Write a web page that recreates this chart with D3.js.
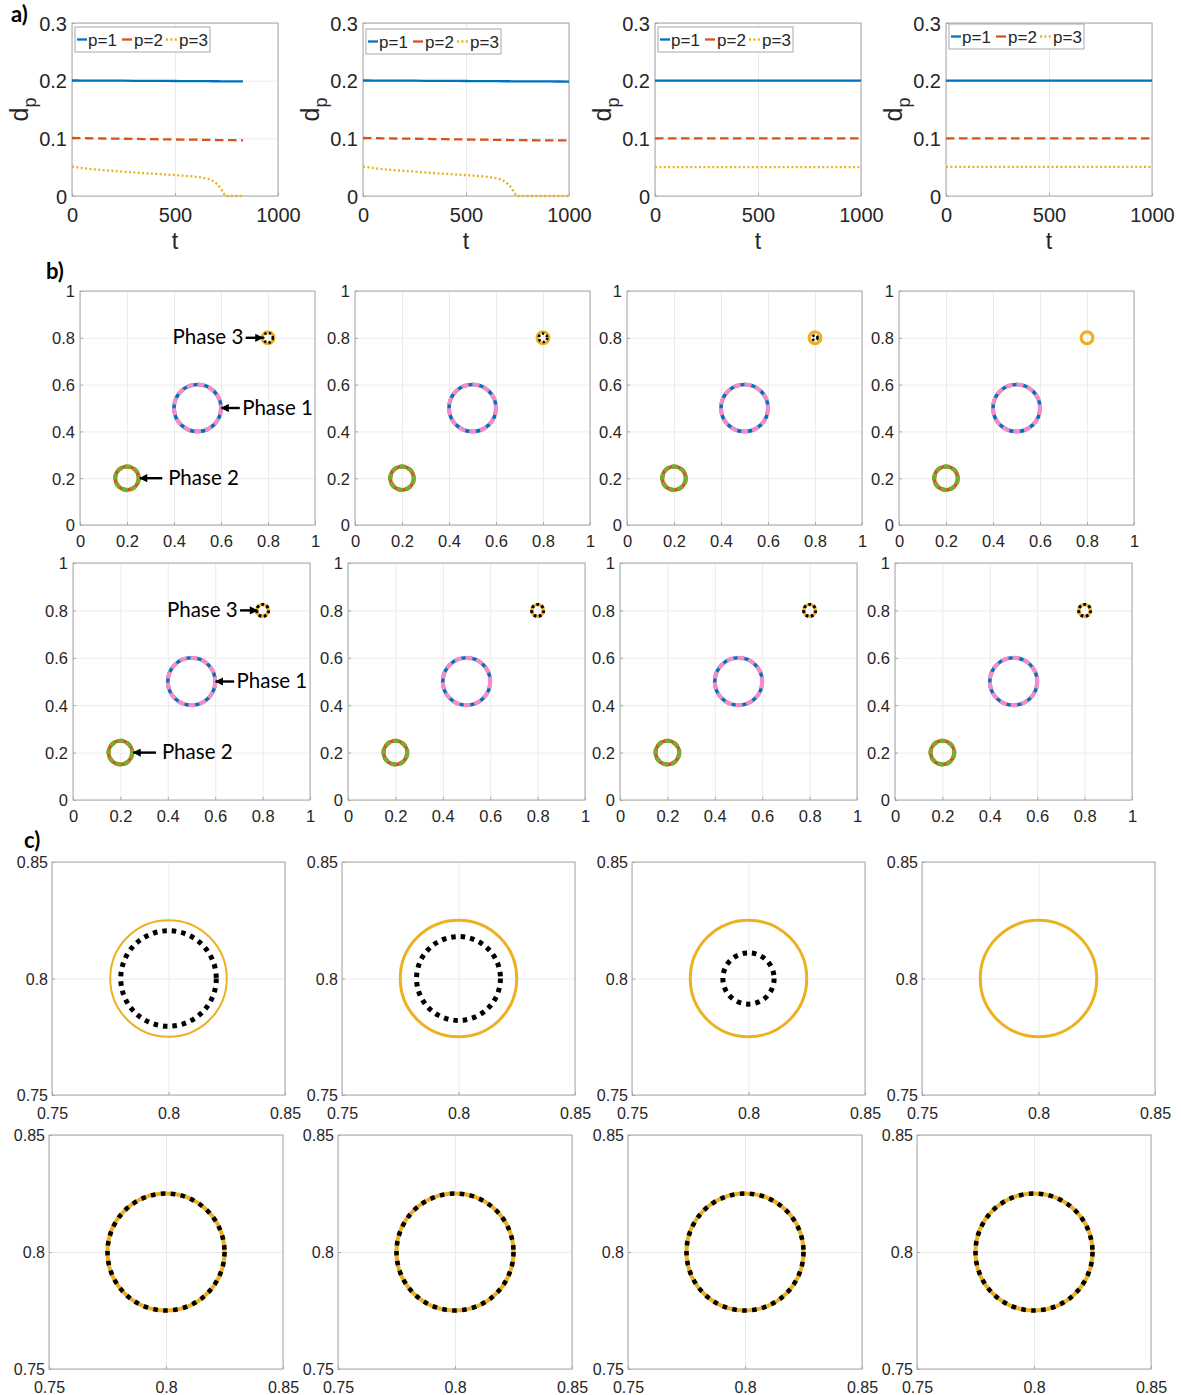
<!DOCTYPE html>
<html><head><meta charset="utf-8">
<script src="https://cdn.jsdelivr.net/npm/d3@7"></script>
<style>body{margin:0;background:#fff}</style>
</head><body>
<svg id="fig" width="1181" height="1395"></svg>
<script>
// ================= DATA =================
// Panel a) : d_p versus t, one entry per sub-plot
const aTimes = [
  [0,50,100,200,300,400,500,550,600,650,680,700,720,735,745,760,800,830],
  [0,50,100,200,300,400,500,550,600,650,680,700,720,735,748,760,800,900,1000],
  [0,500,1000],
  [0,500,1000]
];
const aP1 = [
  [0.2003,0.2002,0.2001,0.2000,0.1998,0.1996,0.1994,0.1993,0.1992,0.1991,0.1990,0.1990,0.1989,0.1989,0.1988,0.1988,0.1987,0.1986],
  [0.2003,0.2002,0.2001,0.2000,0.1998,0.1996,0.1994,0.1993,0.1992,0.1991,0.1990,0.1990,0.1989,0.1989,0.1988,0.1988,0.1987,0.1986,0.1985],
  [0.2,0.2,0.2],
  [0.2,0.2,0.2]
];
const aP2 = [
  [0.1006,0.1003,0.1000,0.0995,0.0990,0.0985,0.0980,0.0978,0.0976,0.0974,0.0972,0.0971,0.0970,0.0970,0.0969,0.0968,0.0967,0.0966],
  [0.1006,0.1003,0.1000,0.0995,0.0990,0.0985,0.0980,0.0978,0.0976,0.0974,0.0972,0.0971,0.0970,0.0970,0.0969,0.0968,0.0967,0.0965,0.0963],
  [0.1,0.1,0.1],
  [0.1,0.1,0.1]
];
const aP3 = [
  [0.051,0.0485,0.0465,0.0435,0.0408,0.0385,0.0362,0.035,0.0333,0.0305,0.027,0.022,0.014,0.006,0,0,0,0],
  [0.051,0.0485,0.0465,0.0435,0.0408,0.0385,0.0362,0.035,0.0333,0.0305,0.027,0.022,0.014,0.006,0,0,0,0,0],
  [0.05,0.05,0.05],
  [0.0505,0.0505,0.0505]
];
const aLegendLabels = ["p=1","p=2","p=3"];
const aXTicks = [0,500,1000];
const aYTicks = [0,0.1,0.2,0.3];

// Panels b) and c) : phase circles
const phaseNames = ["Phase 1","Phase 2","Phase 3"];
const phaseCx = [0.5,0.2,0.8];
const phaseCy = [0.5,0.2,0.8];
const phaseR  = [0.1,0.05,0.025];
// black (inner) phase-3 contour radius, top row / bottom row, per column
const innerRTop = [0.0205,0.018,0.011,null];
const innerRBot = [0.025,0.025,0.025,0.025];
const bTicks = [0,0.2,0.4,0.6,0.8,1];
const cTicks = [0.75,0.8,0.85];

// annotations (data coordinates) in first b) sub-plots
const annoY      = [0.5,0.2,0.8];
const annoTail   = [0.68,0.35,0.705];
const annoTip    = [0.602,0.255,0.777];
const annoTextX  = [0.69,0.375,0.695];
const annoAnchor = ["start","start","end"];

// ================= STYLE / LAYOUT =================
const C = {blue:"#0072BD", red:"#D95319", yellow:"#EDB120", green:"#77AC30", pink:"#F48CC6", black:"#000"};
const TICKFONT = "Liberation Sans, Arial, Helvetica, sans-serif";
const CALFONT = "Lato, Open Sans, sans-serif";
const AXC = "#a8a8a8", GRIDC = "#ebebeb", TXT = "#262626";

const svg = d3.select("#fig");
svg.append("rect").attr("width",1181).attr("height",1395).attr("fill","#fff");
svg.append("defs").append("marker").attr("id","arr")
  .attr("viewBox","0 0 10 10").attr("refX",9).attr("refY",5)
  .attr("markerWidth",4).attr("markerHeight",3.4).attr("orient","auto")
  .append("path").attr("d","M0,0L10,5L0,10Z").attr("fill","#000");

function fmt(v){ return String(v); }

function drawAxes(o){
  const g = svg.append("g").attr("transform",`translate(${o.left},${o.top})`);
  const x = d3.scaleLinear().domain(o.xDomain).range([0,o.w]);
  const y = d3.scaleLinear().domain(o.yDomain).range([o.h,0]);
  // grid
  g.append("g").call(d3.axisBottom(x).tickValues(o.xTicks).tickSize(o.h).tickFormat(""))
    .call(s=>{s.select(".domain").remove(); s.selectAll("line").attr("stroke",GRIDC);});
  g.append("g").call(d3.axisLeft(y).tickValues(o.yTicks).tickSize(-o.w).tickFormat(""))
    .call(s=>{s.select(".domain").remove(); s.selectAll("line").attr("stroke",GRIDC);});
  // box
  g.append("rect").attr("x",0).attr("y",0).attr("width",o.w).attr("height",o.h)
    .attr("fill","none").attr("stroke",AXC).attr("stroke-width",1);
  // ticks + labels
  g.append("g").attr("transform",`translate(0,${o.h})`)
    .call(d3.axisBottom(x).tickValues(o.xTicks).tickSizeInner(-3).tickSizeOuter(0).tickFormat(fmt))
    .call(s=>{
      s.select(".domain").remove();
      s.attr("font-family",TICKFONT).attr("font-size",o.fs);
      s.selectAll("line").attr("stroke",AXC);
      s.selectAll("text").attr("y",o.xOff).attr("dy",null).attr("fill",TXT);
    });
  g.append("g")
    .call(d3.axisLeft(y).tickValues(o.yTicks).tickSizeInner(-3).tickSizeOuter(0).tickFormat(fmt))
    .call(s=>{
      s.select(".domain").remove();
      s.attr("font-family",TICKFONT).attr("font-size",o.fs);
      s.selectAll("line").attr("stroke",AXC);
      s.selectAll("text").attr("x",-o.yOff).attr("dy","0.36em").attr("fill",TXT);
    });
  const data = g.append("g");
  return {g, data, x, y};
}

// ================= PANEL a =================
const aLefts = [72,363,655,946], aTop = 23, aW = 206, aH = 173;
const aLegTop = [4,6,4,1];
const aStyles = [
  {c:C.blue, dash:null},
  {c:C.red, dash:"8.5,4.5"},
  {c:C.yellow, dash:"2,2.4"}
];
aLefts.forEach((L,i)=>{
  const ax = drawAxes({left:L, top:aTop, w:aW, h:aH, xDomain:[0,1000], yDomain:[0,0.3],
    xTicks:aXTicks, yTicks:aYTicks, fs:20, xOff:26, yOff:5});
  const series = [aP1[i], aP2[i], aP3[i]];
  const line = d3.line().x(d=>ax.x(d[0])).y(d=>ax.y(d[1])).curve(d3.curveMonotoneX);
  series.forEach((vals,k)=>{
    const pts = aTimes[i].map((t,j)=>[t, vals[j]]);
    ax.data.append("path").attr("d",line(pts)).attr("fill","none")
      .attr("stroke",aStyles[k].c).attr("stroke-width",2.3)
      .attr("stroke-dasharray",aStyles[k].dash);
  });
  // legend
  const lg = ax.g.append("g").attr("transform",`translate(3,${aLegTop[i]})`);
  lg.append("rect").attr("width",135).attr("height",25).attr("fill","#fff").attr("stroke",AXC);
  const sampX = [[2,12],[47,57],[91,102]];
  const textX = [13,59,104];
  aLegendLabels.forEach((lab,k)=>{
    lg.append("line").attr("x1",sampX[k][0]).attr("x2",sampX[k][1]).attr("y1",12.5).attr("y2",12.5)
      .attr("stroke",aStyles[k].c).attr("stroke-width",2.3)
      .attr("stroke-dasharray",k===2?"2,2.4":null);
    lg.append("text").attr("x",textX[k]).attr("y",19).text(lab)
      .attr("font-size",17).attr("font-family",TICKFONT).attr("fill",TXT);
  });
  // axis labels
  svg.append("text").attr("x",L+aW/2).attr("y",249).attr("text-anchor","middle")
    .attr("font-size",23).attr("font-family",TICKFONT).attr("fill",TXT).text("t");
  const yl = svg.append("text").attr("transform",`translate(${L-44},${aTop+aH/2}) rotate(-90)`)
    .attr("text-anchor","middle").attr("font-size",25).attr("font-family",TICKFONT).attr("fill",TXT);
  yl.append("tspan").text("d");
  yl.append("tspan").attr("dy",8).attr("font-size",18).text("p");
});

// ================= PANEL b =================
const bRows = [
  {lefts:[80,355,627,899], top:291, w:235, h:234, inner:innerRTop, xOff:21.5},
  {lefts:[73,348,620,895], top:563, w:237, h:237, inner:innerRBot, xOff:21.5}
];
bRows.forEach((row,r)=>{
  row.lefts.forEach((L,ci)=>{
    const ax = drawAxes({left:L, top:row.top, w:row.w, h:row.h, xDomain:[0,1], yDomain:[0,1],
      xTicks:bTicks, yTicks:bTicks, fs:16.5, xOff:row.xOff, yOff:5});
    const px = v => ax.x(v) - ax.x(0);
    // Phase 1
    ax.data.append("circle").attr("cx",ax.x(phaseCx[0])).attr("cy",ax.y(phaseCy[0])).attr("r",px(phaseR[0]))
      .attr("fill","none").attr("stroke",C.blue).attr("stroke-width",3.6);
    ax.data.append("circle").attr("cx",ax.x(phaseCx[0])).attr("cy",ax.y(phaseCy[0])).attr("r",px(phaseR[0]))
      .attr("fill","none").attr("stroke",C.pink).attr("stroke-width",4.2).attr("stroke-dasharray","7,4");
    // Phase 2
    ax.data.append("circle").attr("cx",ax.x(phaseCx[1])).attr("cy",ax.y(phaseCy[1])).attr("r",px(phaseR[1]))
      .attr("fill","none").attr("stroke",C.red).attr("stroke-width",3.6);
    ax.data.append("circle").attr("cx",ax.x(phaseCx[1])).attr("cy",ax.y(phaseCy[1])).attr("r",px(phaseR[1]))
      .attr("fill","none").attr("stroke",C.green).attr("stroke-width",4.4).attr("stroke-dasharray","6,2.8");
    // Phase 3
    ax.data.append("circle").attr("cx",ax.x(phaseCx[2])).attr("cy",ax.y(phaseCy[2])).attr("r",px(phaseR[2]))
      .attr("fill","none").attr("stroke",C.yellow).attr("stroke-width",3.2);
    const ir = row.inner[ci];
    if (ir !== null){
      ax.data.append("circle").attr("cx",ax.x(phaseCx[2])).attr("cy",ax.y(phaseCy[2])).attr("r",px(ir))
        .attr("fill","none").attr("stroke",C.black).attr("stroke-width",r===0?2.6:3.2)
        .attr("stroke-dasharray",r===0?"2.2,2.4":"2.6,2.6");
    }
    if (ci===0){
      phaseNames.forEach((nm,k)=>{
        ax.data.append("line").attr("x1",ax.x(annoTail[k])).attr("x2",ax.x(annoTip[k]))
          .attr("y1",ax.y(annoY[k])).attr("y2",ax.y(annoY[k]))
          .attr("stroke","#000").attr("stroke-width",2.4).attr("marker-end","url(#arr)");
        ax.data.append("text").attr("x",ax.x(annoTextX[k])).attr("y",ax.y(annoY[k])).attr("dy","0.32em")
          .attr("text-anchor",annoAnchor[k]).attr("font-size",20.5).attr("font-family",CALFONT)
          .attr("fill","#000").text(nm);
      });
    }
  });
});

// ================= PANEL c =================
const cRows = [
  {lefts:[52,342,632,922], top:862, w:233, h:233, inner:innerRTop, yw:[2,3,3,3], bw:5, bdash:"4.5,5"},
  {lefts:[49,338,628,917], top:1135, w:234, h:234, inner:innerRBot, yw:[4,4,4,4], bw:4.6, bdash:"4.6,5.4"}
];
cRows.forEach(row=>{
  row.lefts.forEach((L,ci)=>{
    const ax = drawAxes({left:L, top:row.top, w:row.w, h:row.h, xDomain:[0.75,0.85], yDomain:[0.75,0.85],
      xTicks:cTicks, yTicks:cTicks, fs:16, xOff:23.5, yOff:4});
    const px = v => ax.x(0.75+v) - ax.x(0.75);
    ax.data.append("circle").attr("cx",ax.x(phaseCx[2])).attr("cy",ax.y(phaseCy[2])).attr("r",px(phaseR[2]))
      .attr("fill","none").attr("stroke",C.yellow).attr("stroke-width",row.yw[ci]);
    const ir = row.inner[ci];
    if (ir !== null){
      ax.data.append("circle").attr("cx",ax.x(phaseCx[2])).attr("cy",ax.y(phaseCy[2])).attr("r",px(ir))
        .attr("fill","none").attr("stroke",C.black).attr("stroke-width",row.bw)
        .attr("stroke-dasharray",row.bdash);
    }
  });
});

// ================= panel letters =================
[["a)",11,22],["b)",46,279],["c)",24,848]].forEach(([t,x,y])=>{
  svg.append("text").attr("x",x).attr("y",y).attr("font-size",22).attr("font-weight","bold")
    .attr("font-family",CALFONT).attr("fill","#000").text(t);
});
</script>
</body></html>
